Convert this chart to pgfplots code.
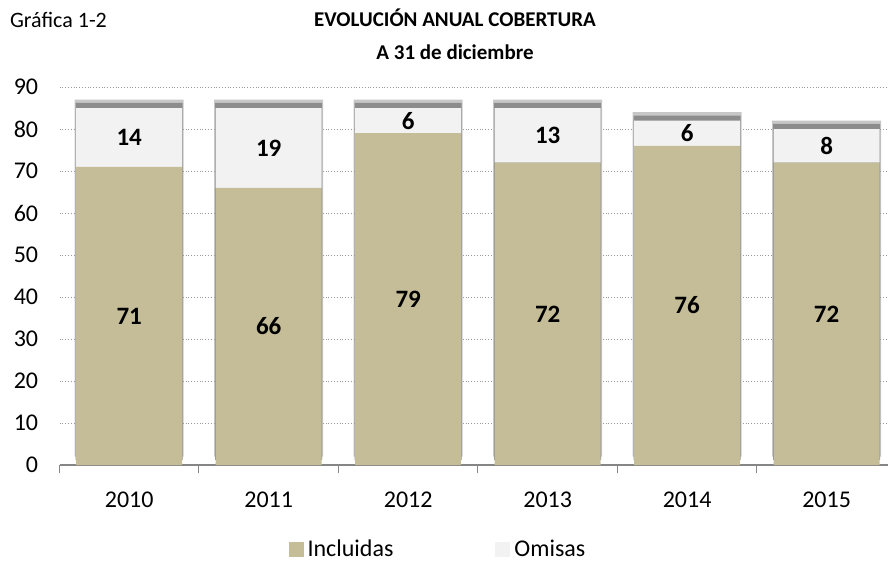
\documentclass[border=0pt]{standalone}
\usepackage{fontspec}
\setmainfont{Carlito}
\usepackage{pgfplots}
\pgfplotsset{compat=1.18}
\definecolor{incl}{HTML}{C4BD97}
\definecolor{omis}{HTML}{F2F2F2}
\definecolor{axgray}{HTML}{868686}
\pgfplotsset{frame/.style={at={(29.75pt,49pt)}, anchor=south west,
    scale only axis, width=414.25pt, height=189pt,
    xmin=-0.5, xmax=5.44}}

% totals per year (Incluidas + Omisas), used for the soft shadow above each bar
\pgfplotstableread{
x total
0 85
1 85
2 85
3 85
4 82
5 80
}\totals

\begin{document}
\begin{tikzpicture}
\useasboundingbox (0,0) rectangle (444pt,281.5pt);
% shadow, outer band
\begin{axis}[frame, hide axis, ymin=-2.0, ymax=88.0, ybar, bar width=54.5pt]
\addplot[fill=black!22, draw=none] table[x=x, y=total] {\totals};
\end{axis}
% shadow, inner band
\begin{axis}[frame, hide axis, ymin=-1.2, ymax=88.8, ybar, bar width=53.5pt]
\addplot[fill=black!45, draw=none] table[x=x, y=total] {\totals};
\end{axis}
% main chart
\begin{axis}[
    frame, ymin=0, ymax=90,
    ybar stacked, bar width=53pt,
    xtick={0,1,2,3,4,5},
    xticklabels={2010,2011,2012,2013,2014,2015},
    ytick={0,10,...,90},
    extra x ticks={-0.5,0.5,1.5,2.5,3.5,4.5},
    extra x tick labels={},
    extra x tick style={major tick length=4pt, tick align=outside},
    major tick length=0pt,
    tick style={axgray, line width=0.5pt},
    axis x line*=bottom, axis y line*=left,
    axis line style={axgray, line width=0.6pt},
    y axis line style={draw=none},
    ymajorgrids,
    grid style={densely dotted, gray!80, line width=0.45pt},
    tick label style={font=\fontsize{12}{14}\selectfont},
    /pgf/number format/assume math mode=true,
    yticklabel style={inner sep=0pt, xshift=-10.5pt},
    xticklabel style={anchor=center, yshift=-17.5pt},
    legend style={at={(0.458,-0.2235)}, anchor=center, draw=none, fill=none,
        legend columns=2, font=\fontsize{12}{14}\selectfont,
        /tikz/every even column/.append style={column sep=49pt},
        /tikz/every odd column/.append style={column sep=0pt}},
    legend image code/.code={\fill[#1] (0pt,-3.75pt) rectangle (7.5pt,3.75pt);},
]
\addplot[fill=incl, draw=none]
    coordinates {(0,71) (1,66) (2,79) (3,72) (4,76) (5,72)};
\addplot[fill=omis, draw=none]
    coordinates {(0,14) (1,19) (2,6) (3,13) (4,6) (5,8)};
\legend{Incluidas, Omisas}
\end{axis}
% value labels, centred in each segment
\begin{axis}[frame, hide axis, ymin=0, ymax=90,
    nodes near coords, point meta=explicit symbolic,
    every node near coord/.append style={font=\fontsize{12.5}{14}\selectfont\bfseries,
        text=black, anchor=center}]
\addplot[draw=none, mark=none]
    coordinates {(0,35.5) [71] (1,33) [66] (2,39.5) [79] (3,36) [72] (4,38) [76] (5,36) [72]};
\addplot[draw=none, mark=none]
    coordinates {(0,78) [14] (1,75.5) [19] (2,82) [6] (3,78.5) [13] (4,79) [6] (5,76) [8]};
\end{axis}
\node[anchor=west, font=\fontsize{11}{13}\selectfont] at (1.5pt,271.5pt) {Gráfica 1-2};
\node[font=\fontsize{10.5}{12.5}\selectfont\bfseries] at (227.5pt,272.5pt) {EVOLUCIÓN ANUAL COBERTURA};
\node[font=\fontsize{10.5}{12.5}\selectfont\bfseries] at (227.5pt,255.5pt) {A 31 de diciembre};
\end{tikzpicture}
\end{document}
